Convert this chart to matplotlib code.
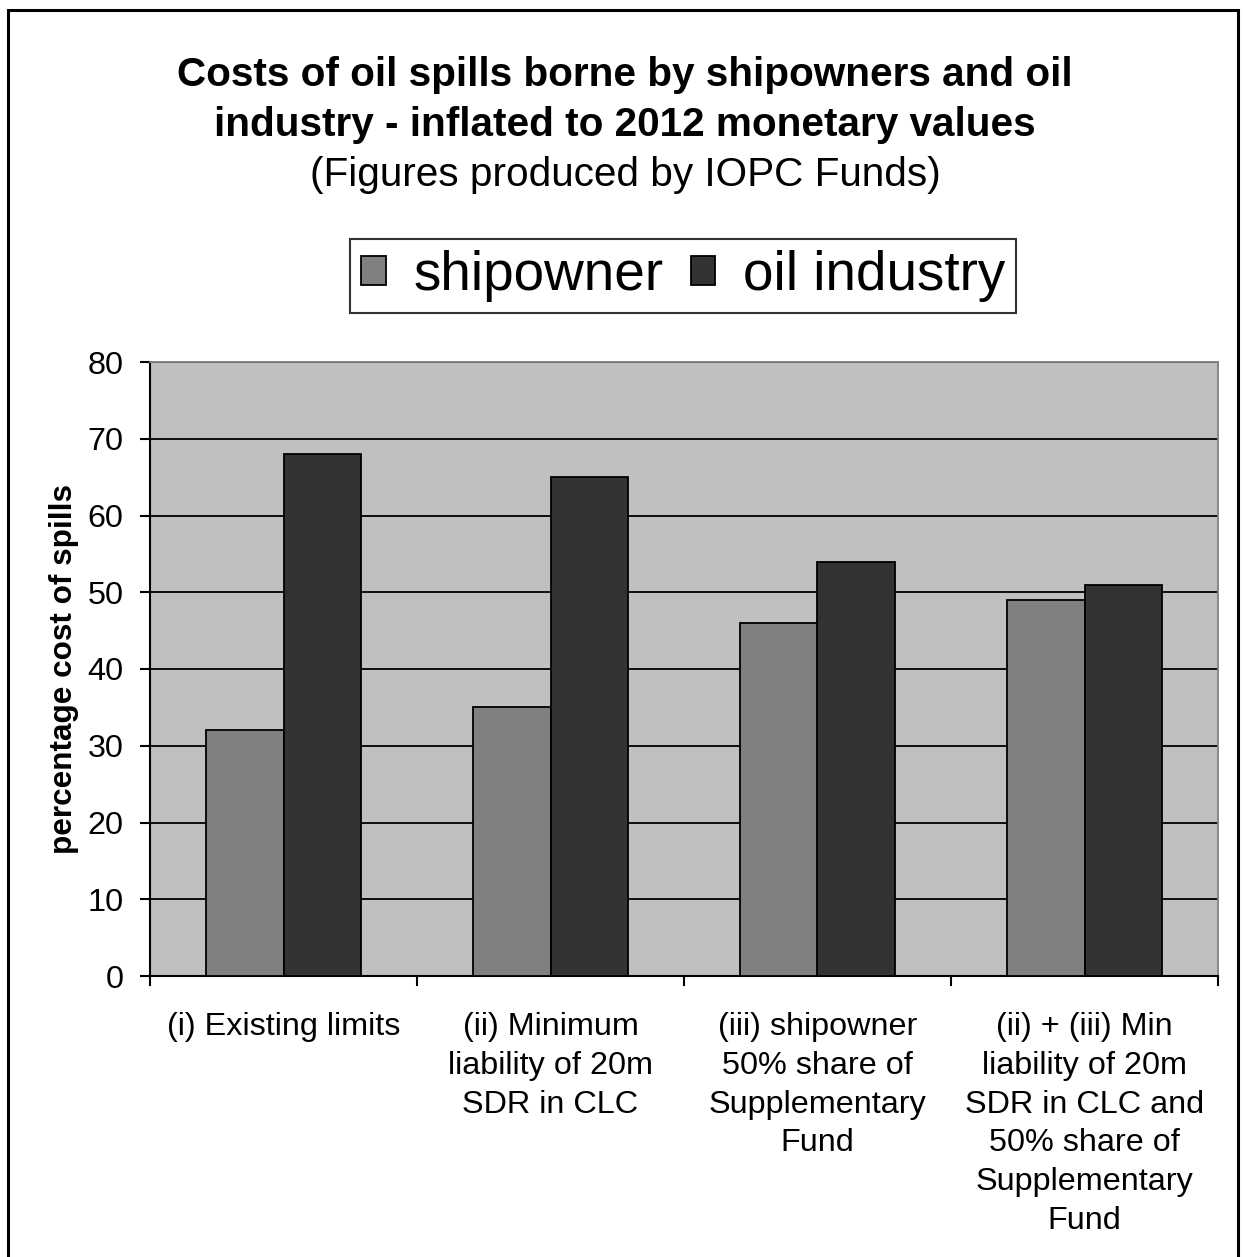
import matplotlib
matplotlib.use('Agg')
import matplotlib.pyplot as plt
from matplotlib.patches import Rectangle
import numpy as np

plt.rcParams['font.family'] = ['Liberation Sans', 'DejaVu Sans']

categories = ['(i) Existing limits',
              '(ii) Minimum\nliability of 20m\nSDR in CLC',
              '(iii) shipowner\n50% share of\nSupplementary\nFund',
              '(ii) + (iii) Min\nliability of 20m\nSDR in CLC and\n50% share of\nSupplementary\nFund']
shipowner = [32, 35, 46, 49]
oil_industry = [68, 65, 54, 51]
series_names = ['shipowner', 'oil industry']
series_colors = ['#808080', '#333333']
yticks = [0, 10, 20, 30, 40, 50, 60, 70, 80]

W, H = 1243, 1257
fig = plt.figure(figsize=(W / 100, H / 100), dpi=100)

# outer chart border
fig.patches.append(Rectangle((8 / W, -0.05), 1230 / W, 1.05 - 10 / H,
                             transform=fig.transFigure, fill=False,
                             edgecolor='black', linewidth=2.2))

ax = fig.add_axes([150 / W, 1 - 976 / H, 1068 / W, 614 / H])
ax.set_facecolor('#C0C0C0')

x = np.arange(len(categories))
bw = 0.289
ax.bar(x - bw / 2, shipowner, bw, color=series_colors[0], edgecolor='black',
       linewidth=1.3, label=series_names[0], zorder=3)
ax.bar(x + bw / 2, oil_industry, bw, color=series_colors[1], edgecolor='black',
       linewidth=1.3, label=series_names[1], zorder=3)

ax.set_xlim(-0.5, len(categories) - 0.5)
ax.set_ylim(0, 80)
ax.set_yticks(yticks)
ax.yaxis.grid(True, color='black', linewidth=1.3, zorder=1)
ax.set_axisbelow(True)

ax.set_xticks(x)
ax.set_xticklabels(categories, fontsize=23.3, linespacing=1.38, va='top')
ax.tick_params(axis='x', which='major', length=0, pad=26)
ax.set_xticks(np.arange(-0.5, len(categories)), minor=True)
ax.tick_params(axis='x', which='minor', length=7.2, width=1.5, direction='out')
ax.tick_params(axis='y', length=7.2, width=1.5, direction='out', labelsize=23.3, pad=12)

for side in ['top', 'right']:
    ax.spines[side].set_color('#808080')
    ax.spines[side].set_linewidth(1.3)
for side in ['left', 'bottom']:
    ax.spines[side].set_linewidth(1.5)

ax.set_ylabel('percentage cost of spills', fontsize=22.7, fontweight='bold', labelpad=6)

fig.text(0.503, 1 - 75 / H, 'Costs of oil spills borne by shipowners and oil',
         ha='center', va='center', fontsize=29.2, fontweight='bold')
fig.text(0.503, 1 - 125 / H, 'industry - inflated to 2012 monetary values',
         ha='center', va='center', fontsize=29.2, fontweight='bold')
fig.text(0.503, 1 - 175 / H, '(Figures produced by IOPC Funds)',
         ha='center', va='center', fontsize=29.2)

leg = fig.legend(loc='center', bbox_to_anchor=(683 / W, 1 - 276 / H), ncol=2,
                 fontsize=39.5, frameon=True, fancybox=False, edgecolor='black',
                 handlelength=0.45, handleheight=0.45, handletextpad=0.5,
                 columnspacing=0.5, borderpad=0.2, borderaxespad=0)
leg.get_frame().set_linewidth(1.5)

fig.savefig('out.png', dpi=100)
